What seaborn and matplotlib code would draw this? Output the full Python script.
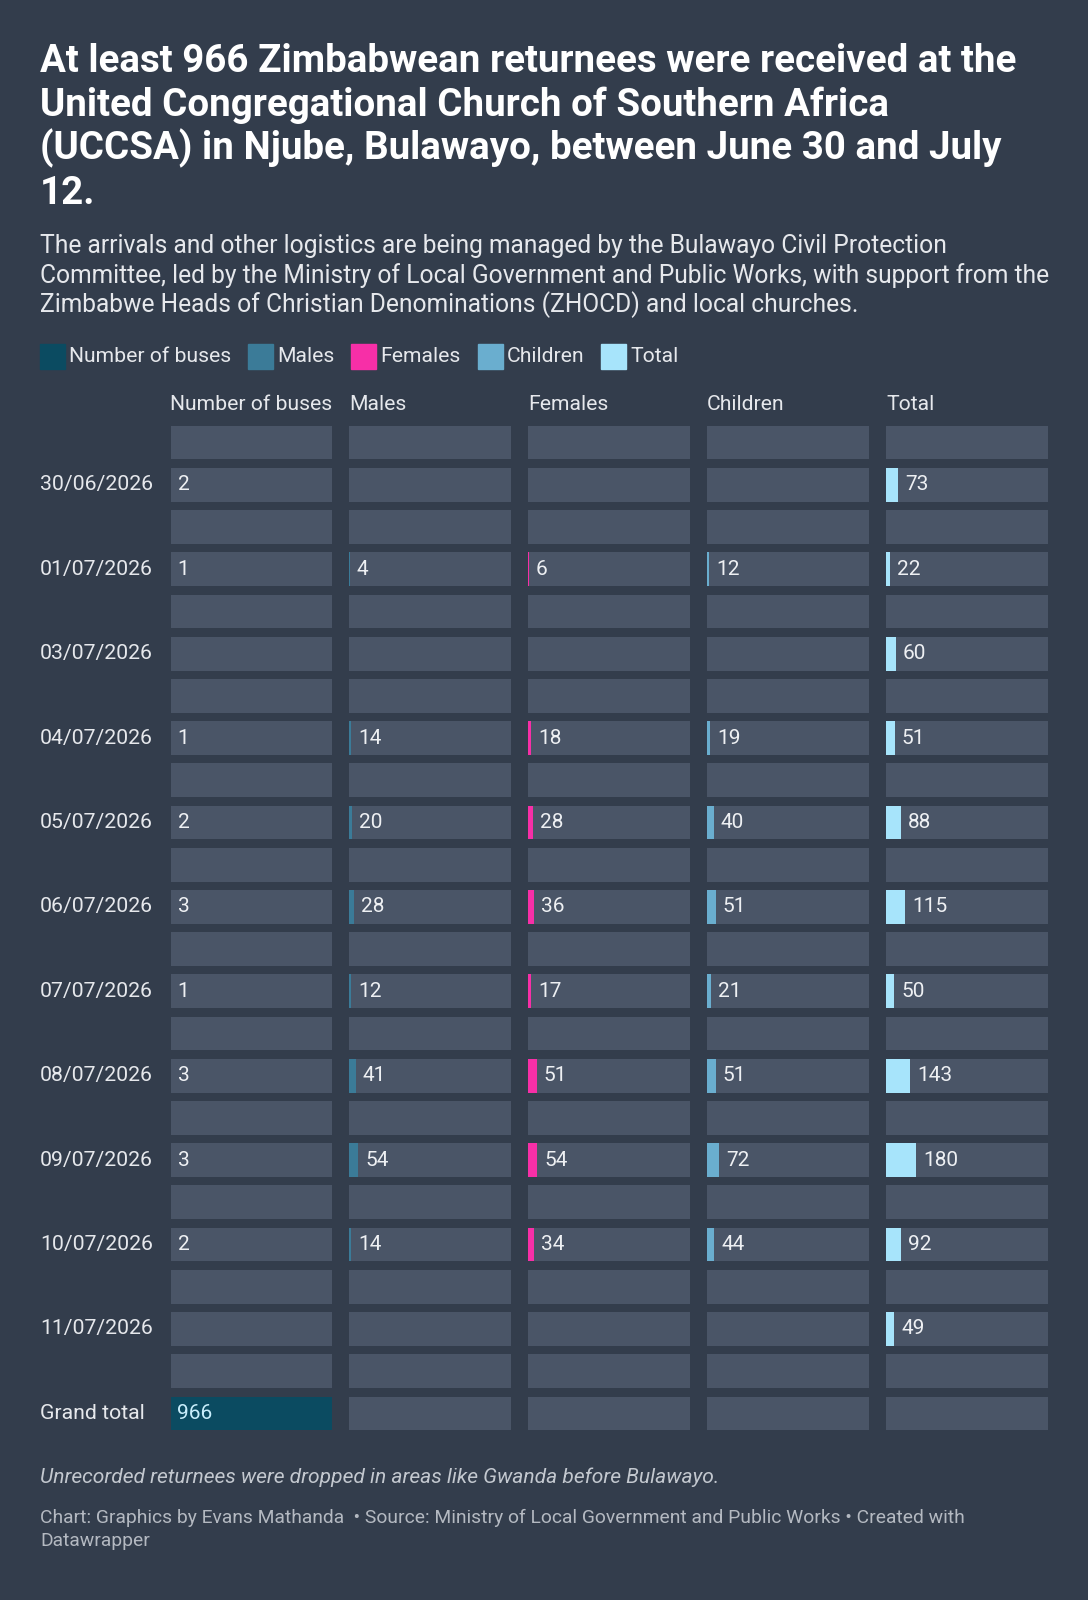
import numpy as np
import pandas as pd
import seaborn as sns
import matplotlib
matplotlib.use('Agg')
import matplotlib.pyplot as plt
from matplotlib import transforms

# data
dates = ['30/06/2026', '01/07/2026', '03/07/2026', '04/07/2026', '05/07/2026', '06/07/2026',
         '07/07/2026', '08/07/2026', '09/07/2026', '10/07/2026', '11/07/2026']
buses = [2, 1, None, 1, 2, 3, 1, 3, 3, 2, None]
males = [None, 4, None, 14, 20, 28, 12, 41, 54, 14, None]
females = [None, 6, None, 18, 28, 36, 17, 51, 54, 34, None]
children = [None, 12, None, 19, 40, 51, 21, 51, 72, 44, None]
totals = [73, 22, 60, 51, 88, 115, 50, 143, 180, 92, 49]
grand_total = 966

series = ['Number of buses', 'Males', 'Females', 'Children', 'Total']
colors = ['#0b4b61', '#3b7b98', '#f72fa7', '#6aaecf', '#a7e4fb']

BG = '#333d4c'
PANEL = '#4a5567'
W, H = 1088, 1600

sns.set_theme(style='white')
plt.rcParams['font.family'] = ['Roboto', 'DejaVu Sans']


def build_table():
    labels, rows = [], {s: [] for s in series}
    values = dict(zip(series, [buses, males, females, children, totals]))
    for i, d in enumerate(dates + ['Grand total']):
        labels += ['', d]
        for s in series:
            rows[s].append(np.nan)
            if d == 'Grand total':
                v = grand_total if s == 'Number of buses' else None
            else:
                v = values[s][i]
            rows[s].append(np.nan if v is None else v)
    df = pd.DataFrame(rows)
    df['label'] = labels
    df['row'] = ['r%d' % i for i in range(len(df))]
    df['bg'] = grand_total
    return df


def px_axes(fig, x, y, w, h):
    return fig.add_axes([x / W, 1 - (y + h) / H, w / W, h / H])


def draw_column(fig, df, name, color, x0):
    ax = px_axes(fig, x0, 421.5, 161.5, 1013)
    order = list(df['row'])
    sns.barplot(data=df, x='bg', y='row', order=order, color=PANEL, width=0.8,
                orient='h', errorbar=None, linewidth=0, saturation=1, ax=ax)
    sns.barplot(data=df.fillna({name: 0}), x=name, y='row', order=order, color=color,
                width=0.8, orient='h', errorbar=None, linewidth=0, saturation=1, ax=ax)
    ax.set_xlim(0, grand_total)
    ax.set_ylim(len(df) - 0.5, -0.5)
    ax.axis('off')
    for i, v in enumerate(df[name]):
        if np.isnan(v):
            continue
        if v / grand_total > 0.5:
            ax.annotate('%d' % v, (0, i), xytext=(7, 0), textcoords='offset pixels',
                        va='center', ha='left', fontsize=15, color='#c9eefc')
        else:
            ax.annotate('%d' % v, (v, i), xytext=(7, 0), textcoords='offset pixels',
                        va='center', ha='left', fontsize=15, color='#eef0f3')
    fig.text(x0 / W, 1 - 405 / H, name, ha='left', va='center', fontsize=15.2, color='#e6e8ec')
    return ax


def main():
    df = build_table()
    fig = plt.figure(figsize=(W / 100, H / 100), dpi=100, facecolor=BG)

    title = ['At least 966 Zimbabwean returnees were received at the',
             'United Congregational Church of Southern Africa',
             '(UCCSA) in Njube, Bulawayo, between June 30 and July',
             '12.']
    for i, line in enumerate(title):
        fig.text(40 / W, 1 - (71.5 + 44 * i) / H, line, ha='left', va='baseline',
                 fontsize=27.7, fontweight='bold', color='white')

    subtitle = ['The arrivals and other logistics are being managed by the Bulawayo Civil Protection',
                'Committee, led by the Ministry of Local Government and Public Works, with support from the',
                'Zimbabwe Heads of Christian Denominations (ZHOCD) and local churches.']
    for i, line in enumerate(subtitle):
        fig.text(40 / W, 1 - (253 + 29.7 * i) / H, line, ha='left', va='baseline',
                 fontsize=17.75, color='#e6e8ec')

    # legend
    lx = 40
    for name, color in zip(series, colors):
        fig.patches.append(plt.Rectangle((lx / W, 1 - 369 / H), 25 / W, 25 / H,
                                         transform=fig.transFigure, color=color))
        t = fig.text((lx + 29) / W, 1 - 357 / H, name, ha='left', va='center',
                     fontsize=15.2, color='#e6e8ec')
        fig.canvas.draw()
        bb = t.get_window_extent()
        lx = bb.x1 + 17

    col_x = [170.5, 349, 528, 707, 886]
    axes = [draw_column(fig, df, s, c, x) for s, c, x in zip(series, colors, col_x)]

    trans = transforms.blended_transform_factory(fig.transFigure, axes[0].transData)
    for i, lab in enumerate(df['label']):
        if lab:
            fig.text(40 / W, i, lab, transform=trans, ha='left', va='center',
                     fontsize=15.3, color='#e6e8ec')

    fig.text(40 / W, 1 - 1477 / H, 'Unrecorded returnees were dropped in areas like Gwanda before Bulawayo.',
             ha='left', va='center', fontsize=15.1, style='italic', color='#c3c8cf')
    fig.text(40 / W, 1 - 1518 / H,
             'Chart: Graphics by Evans Mathanda  \u2022 Source: Ministry of Local Government and Public Works \u2022 Created with',
             ha='left', va='center', fontsize=13.9, color='#b4b9c1')
    fig.text(40 / W, 1 - 1541 / H, 'Datawrapper', ha='left', va='center', fontsize=13.9, color='#b4b9c1')

    fig.savefig('out.png', dpi=100, facecolor=BG)


if __name__ == '__main__':
    main()
